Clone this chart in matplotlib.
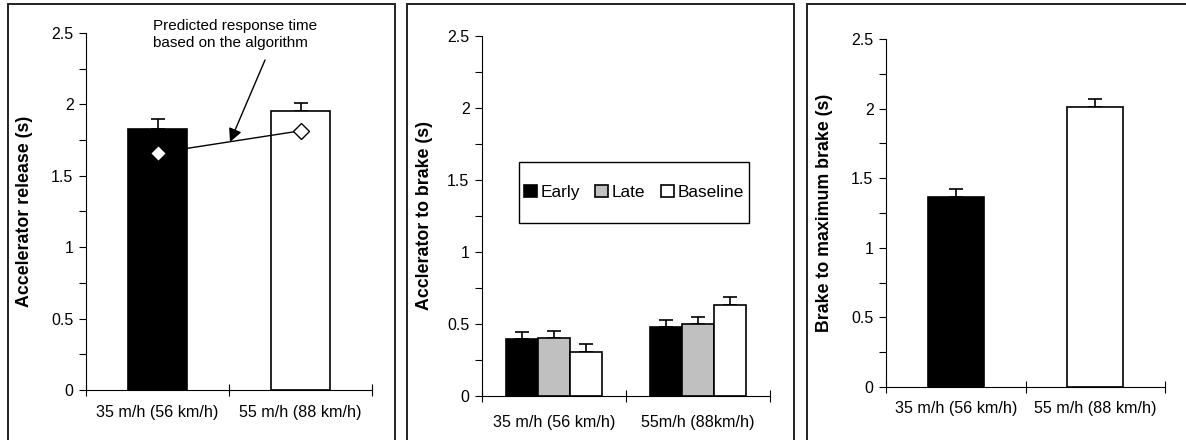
import matplotlib
matplotlib.use('Agg')
import matplotlib.pyplot as plt
from matplotlib.patches import Rectangle
from matplotlib.ticker import MultipleLocator, FuncFormatter
import numpy as np

plt.rcParams['font.family'] = ['Liberation Sans', 'DejaVu Sans']

# Speed conditions
speeds = ['35 m/h (56 km/h)', '55 m/h (88 km/h)']
speeds_mid = ['35 m/h (56 km/h)', '55m/h (88km/h)']

# Accelerator release (s)
release_mean = [1.83, 1.955]
release_err = [0.068, 0.052]
release_predicted = [1.66, 1.815]

# Accelerator to brake (s) by warning timing
warn_groups = ['Early', 'Late', 'Baseline']
acc_brake_early = [0.395, 0.48]
acc_brake_late = [0.403, 0.497]
acc_brake_base = [0.308, 0.634]
acc_brake_early_err = [0.048, 0.051]
acc_brake_late_err = [0.049, 0.049]
acc_brake_base_err = [0.054, 0.056]

# Brake to maximum brake (s)
max_brake_mean = [1.365, 2.015]
max_brake_err = [0.055, 0.057]

W, H = 1186, 440
fig = plt.figure(figsize=(W / 100, H / 100), dpi=100)


def px_axes(x0, x1, y_top, y_bot):
    return fig.add_axes([x0 / W, 1 - y_bot / H, (x1 - x0) / W, (y_bot - y_top) / H])


def style_axes(ax, labels, ylabel, label_x, xpad):
    ax.set_xlim(-0.5, 1.5)
    ax.set_ylim(0, 2.5)
    for s in ['top', 'right']:
        ax.spines[s].set_visible(False)
    for s in ['left', 'bottom']:
        ax.spines[s].set_linewidth(0.8)
    ax.yaxis.set_major_locator(MultipleLocator(0.5))
    ax.yaxis.set_minor_locator(MultipleLocator(0.25))
    ax.yaxis.set_major_formatter(FuncFormatter(lambda v, p: '%g' % v))
    ax.tick_params(axis='y', which='both', direction='out', length=5, width=0.8,
                   labelsize=11.5, pad=4)
    ax.set_xticks([-0.5, 0.5, 1.5])
    ax.set_xticklabels([])
    ax.tick_params(axis='x', which='major', direction='inout', length=8, width=0.8)
    ax.set_xticks([0, 1], minor=True)
    ax.set_xticklabels(labels, minor=True)
    ax.tick_params(axis='x', which='minor', length=0, labelsize=11.6, pad=xpad)
    ax.set_ylabel(ylabel, fontsize=12.8, fontweight='bold')
    ax.yaxis.set_label_coords(label_x, 0.5)


def frame(x0, x1, y_top):
    fig.add_artist(Rectangle((x0 / W, -0.1), (x1 - x0) / W, 1 - y_top / H + 0.1,
                             transform=fig.transFigure, fill=False,
                             edgecolor='#222222', linewidth=1.4))


frame(8, 395, 4)
frame(407, 794, 4)
frame(807, 1300, 4)

x = np.arange(len(speeds))
err_kw = dict(fmt='none', ecolor='black', elinewidth=1.2, capsize=5, capthick=1.2)

# Panel 1: accelerator release with predicted values
ax1 = px_axes(86, 372, 33, 390)
ax1.bar(x, release_mean, width=0.41, color=['black', 'white'], edgecolor='black',
        linewidth=1.2, zorder=2)
ax1.errorbar(x, release_mean, yerr=[np.zeros(2), release_err], zorder=1, **err_kw)
ax1.plot(x, release_predicted, color='black', lw=1, marker='D', markersize=8.5,
         markerfacecolor='white', markeredgecolor='black', markeredgewidth=1, zorder=3)
ax1.annotate('', xy=(0.507, 1.737), xytext=(0.752, 2.311),
             arrowprops=dict(arrowstyle='-|>', color='black', lw=1, mutation_scale=20,
                             shrinkA=0, shrinkB=0), annotation_clip=False)
ax1.text(-0.031, 2.49, 'Predicted response time\nbased on the algorithm',
         ha='left', va='center', fontsize=11, linespacing=1.2, clip_on=False)
style_axes(ax1, speeds, 'Accelerator release (s)', -0.185, 11)

# Panel 2: accelerator to brake by warning group
ax2 = px_axes(482, 770, 36, 396)
bw = 0.22
series = [(acc_brake_early, acc_brake_early_err, 'black'),
          (acc_brake_late, acc_brake_late_err, '#c0c0c0'),
          (acc_brake_base, acc_brake_base_err, 'white')]
for i, (vals, errs, col) in enumerate(series):
    xs = x + (i - 1) * bw
    ax2.bar(xs, vals, width=bw, color=col, edgecolor='black', linewidth=1.2,
            label=warn_groups[i], zorder=2)
    ax2.errorbar(xs, vals, yerr=[np.zeros(2), errs], zorder=1, **err_kw)
style_axes(ax2, speeds_mid, 'Acclerator to brake (s)', -0.17, 14)

# legend box drawn separately so its padding can differ per side
leg_box = (0.128, 0.481, 0.799, 0.169)
ax2.add_patch(Rectangle(leg_box[:2], leg_box[2], leg_box[3], transform=ax2.transAxes,
                        fill=False, edgecolor='black', linewidth=1, zorder=4,
                        clip_on=False))
ax2.legend(loc='center', bbox_to_anchor=leg_box, ncol=3, fontsize=12.4, frameon=False,
           handlelength=0.75, handleheight=0.75, handletextpad=0.2, columnspacing=0.9,
           borderpad=0, borderaxespad=0)

# Panel 3: brake to maximum brake
ax3 = px_axes(886, 1165, 39, 387)
ax3.bar(x, max_brake_mean, width=0.40, color=['black', 'white'], edgecolor='black',
        linewidth=1.2, zorder=2)
ax3.errorbar(x, max_brake_mean, yerr=[np.zeros(2), max_brake_err], zorder=1, **err_kw)
style_axes(ax3, speeds, 'Brake to maximum brake (s)', -0.19, 10)

fig.savefig('out.png', dpi=100)
